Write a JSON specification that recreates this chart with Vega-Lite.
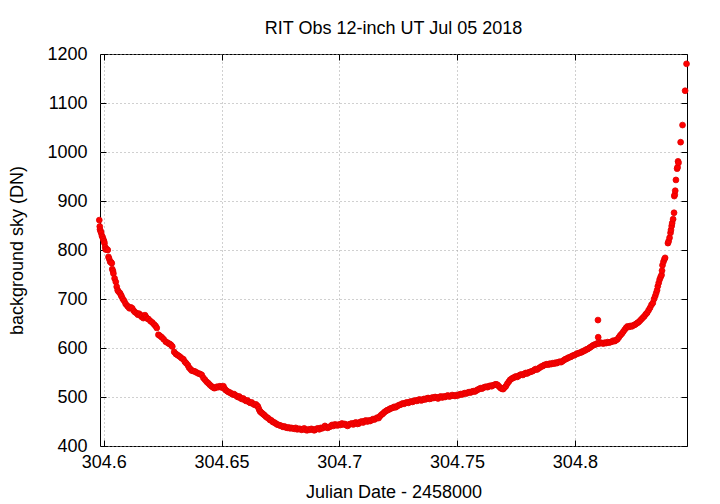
{
  "$schema": "https://vega.github.io/schema/vega-lite/v6.json",
  "width": 587,
  "height": 392,
  "autosize": "none",
  "padding": {"left": 100, "top": 54, "right": 33, "bottom": 58},
  "background": "white",
  "title": {"text": "RIT Obs 12-inch UT Jul 05 2018", "font": "Liberation Sans", "fontSize": 18, "fontWeight": "normal", "color": "black", "anchor": "middle", "offset": 7},
  "config": {
    "view": {"stroke": "black", "strokeWidth": 1},
    "axis": {"labelFont": "Liberation Sans", "labelFontSize": 18, "labelColor": "black", "titleFont": "Liberation Sans", "titleFontSize": 18, "titleFontWeight": "normal", "titleColor": "black", "tickColor": "black", "tickSize": -6, "domain": false, "gridColor": "#a0a0a0", "gridDash": [1, 3], "gridWidth": 1, "gridOpacity": 1}
  },
  "data": {"values": [
{"jd":304.5981,"sky":861},{"jd":304.5983,"sky":848},{"jd":304.5984,"sky":842},{"jd":304.5987,"sky":838},{"jd":304.5989,"sky":835},{"jd":304.5992,"sky":829},{"jd":304.5995,"sky":826},{"jd":304.5998,"sky":822},{"jd":304.6001,"sky":818},{"jd":304.6003,"sky":814},{"jd":304.6006,"sky":806},{"jd":304.6008,"sky":801},{"jd":304.6012,"sky":802},{"jd":304.6017,"sky":800},{"jd":304.602,"sky":786},{"jd":304.6023,"sky":782},{"jd":304.6027,"sky":776},{"jd":304.6031,"sky":775},{"jd":304.6034,"sky":773},{"jd":304.6036,"sky":761},{"jd":304.6039,"sky":757},{"jd":304.6041,"sky":752},{"jd":304.6046,"sky":742},{"jd":304.6051,"sky":735},{"jd":304.6055,"sky":725},{"jd":304.6059,"sky":718},{"jd":304.6063,"sky":715},{"jd":304.6069,"sky":712},{"jd":304.6073,"sky":708},{"jd":304.6076,"sky":705},{"jd":304.6081,"sky":700},{"jd":304.6087,"sky":696},{"jd":304.6093,"sky":690},{"jd":304.61,"sky":686},{"jd":304.6104,"sky":684},{"jd":304.6109,"sky":681},{"jd":304.6115,"sky":683},{"jd":304.6121,"sky":681},{"jd":304.6127,"sky":676},{"jd":304.6133,"sky":673},{"jd":304.614,"sky":671},{"jd":304.6145,"sky":668},{"jd":304.615,"sky":670},{"jd":304.6154,"sky":667},{"jd":304.616,"sky":664},{"jd":304.6164,"sky":666},{"jd":304.6168,"sky":661},{"jd":304.6172,"sky":664},{"jd":304.6175,"sky":667},{"jd":304.618,"sky":663},{"jd":304.6185,"sky":660},{"jd":304.619,"sky":659},{"jd":304.6198,"sky":655},{"jd":304.6206,"sky":652},{"jd":304.6214,"sky":648},{"jd":304.622,"sky":645},{"jd":304.6225,"sky":641},{"jd":304.6232,"sky":627},{"jd":304.6238,"sky":625},{"jd":304.6246,"sky":622},{"jd":304.6254,"sky":618},{"jd":304.6263,"sky":613},{"jd":304.627,"sky":611},{"jd":304.6276,"sky":609},{"jd":304.6281,"sky":608},{"jd":304.6286,"sky":606},{"jd":304.6291,"sky":603},{"jd":304.6299,"sky":592},{"jd":304.6306,"sky":588},{"jd":304.6312,"sky":586},{"jd":304.6318,"sky":584},{"jd":304.6324,"sky":582},{"jd":304.6331,"sky":579},{"jd":304.6338,"sky":577},{"jd":304.6344,"sky":572},{"jd":304.635,"sky":569},{"jd":304.6357,"sky":565},{"jd":304.6362,"sky":560},{"jd":304.6368,"sky":557},{"jd":304.6373,"sky":554},{"jd":304.638,"sky":553},{"jd":304.6387,"sky":552},{"jd":304.6394,"sky":550},{"jd":304.6402,"sky":548},{"jd":304.6409,"sky":547},{"jd":304.6416,"sky":545},{"jd":304.6423,"sky":539},{"jd":304.643,"sky":535},{"jd":304.6437,"sky":531},{"jd":304.6444,"sky":528},{"jd":304.645,"sky":525},{"jd":304.6457,"sky":522},{"jd":304.6463,"sky":520},{"jd":304.6469,"sky":518},{"jd":304.6475,"sky":519},{"jd":304.6481,"sky":521},{"jd":304.6487,"sky":520},{"jd":304.6493,"sky":522},{"jd":304.6498,"sky":521},{"jd":304.6503,"sky":519},{"jd":304.6508,"sky":522},{"jd":304.6513,"sky":517},{"jd":304.6518,"sky":514},{"jd":304.6524,"sky":512},{"jd":304.653,"sky":510},{"jd":304.6536,"sky":509},{"jd":304.6542,"sky":507},{"jd":304.6548,"sky":505},{"jd":304.6553,"sky":506},{"jd":304.6558,"sky":504},{"jd":304.6564,"sky":502},{"jd":304.6569,"sky":500},{"jd":304.6575,"sky":501},{"jd":304.658,"sky":498},{"jd":304.6586,"sky":496},{"jd":304.6592,"sky":497},{"jd":304.6598,"sky":494},{"jd":304.6604,"sky":492},{"jd":304.661,"sky":493},{"jd":304.6616,"sky":490},{"jd":304.6622,"sky":488},{"jd":304.6628,"sky":489},{"jd":304.6634,"sky":486},{"jd":304.664,"sky":484},{"jd":304.6646,"sky":485},{"jd":304.6652,"sky":482},{"jd":304.6655,"sky":480},{"jd":304.6659,"sky":475},{"jd":304.6663,"sky":471},{"jd":304.6667,"sky":469},{"jd":304.6672,"sky":467},{"jd":304.6677,"sky":465},{"jd":304.6682,"sky":463},{"jd":304.6688,"sky":460},{"jd":304.6694,"sky":458},{"jd":304.67,"sky":456},{"jd":304.6706,"sky":453},{"jd":304.6712,"sky":452},{"jd":304.6718,"sky":449},{"jd":304.6724,"sky":448},{"jd":304.673,"sky":446},{"jd":304.6736,"sky":444},{"jd":304.6742,"sky":443},{"jd":304.6748,"sky":442},{"jd":304.6754,"sky":441},{"jd":304.6761,"sky":439},{"jd":304.6767,"sky":440},{"jd":304.6773,"sky":438},{"jd":304.6779,"sky":437},{"jd":304.6785,"sky":438},{"jd":304.6791,"sky":436},{"jd":304.6797,"sky":437},{"jd":304.6803,"sky":436},{"jd":304.6809,"sky":435},{"jd":304.6815,"sky":437},{"jd":304.6821,"sky":434},{"jd":304.6827,"sky":435},{"jd":304.6833,"sky":435},{"jd":304.6839,"sky":433},{"jd":304.6845,"sky":434},{"jd":304.6851,"sky":436},{"jd":304.6857,"sky":433},{"jd":304.6863,"sky":432},{"jd":304.6869,"sky":434},{"jd":304.6875,"sky":433},{"jd":304.6881,"sky":435},{"jd":304.6887,"sky":434},{"jd":304.6893,"sky":432},{"jd":304.6897,"sky":433},{"jd":304.6903,"sky":435},{"jd":304.6909,"sky":436},{"jd":304.6915,"sky":434},{"jd":304.6921,"sky":437},{"jd":304.6927,"sky":436},{"jd":304.6933,"sky":438},{"jd":304.6939,"sky":441},{"jd":304.6945,"sky":438},{"jd":304.6951,"sky":437},{"jd":304.6957,"sky":439},{"jd":304.6963,"sky":440},{"jd":304.6969,"sky":443},{"jd":304.6975,"sky":441},{"jd":304.6981,"sky":444},{"jd":304.6987,"sky":443},{"jd":304.6993,"sky":442},{"jd":304.6999,"sky":444},{"jd":304.7005,"sky":443},{"jd":304.7011,"sky":446},{"jd":304.7017,"sky":444},{"jd":304.7023,"sky":445},{"jd":304.7029,"sky":443},{"jd":304.7035,"sky":441},{"jd":304.7041,"sky":444},{"jd":304.7047,"sky":445},{"jd":304.7053,"sky":446},{"jd":304.7059,"sky":444},{"jd":304.7065,"sky":447},{"jd":304.7071,"sky":448},{"jd":304.7077,"sky":445},{"jd":304.7083,"sky":446},{"jd":304.7089,"sky":449},{"jd":304.7095,"sky":450},{"jd":304.7101,"sky":448},{"jd":304.7107,"sky":451},{"jd":304.7113,"sky":452},{"jd":304.7119,"sky":450},{"jd":304.7125,"sky":452},{"jd":304.7131,"sky":451},{"jd":304.7137,"sky":453},{"jd":304.7143,"sky":455},{"jd":304.7149,"sky":454},{"jd":304.7155,"sky":456},{"jd":304.7161,"sky":458},{"jd":304.7167,"sky":457},{"jd":304.7173,"sky":461},{"jd":304.7179,"sky":464},{"jd":304.7185,"sky":466},{"jd":304.7191,"sky":469},{"jd":304.7197,"sky":471},{"jd":304.7203,"sky":473},{"jd":304.7209,"sky":474},{"jd":304.7215,"sky":476},{"jd":304.7221,"sky":477},{"jd":304.7227,"sky":478},{"jd":304.7233,"sky":480},{"jd":304.7239,"sky":479},{"jd":304.7245,"sky":481},{"jd":304.7251,"sky":483},{"jd":304.7257,"sky":484},{"jd":304.7263,"sky":485},{"jd":304.7269,"sky":487},{"jd":304.7275,"sky":486},{"jd":304.7281,"sky":488},{"jd":304.7287,"sky":489},{"jd":304.7293,"sky":488},{"jd":304.7299,"sky":490},{"jd":304.7305,"sky":491},{"jd":304.7311,"sky":490},{"jd":304.7317,"sky":492},{"jd":304.7323,"sky":493},{"jd":304.7329,"sky":492},{"jd":304.7335,"sky":494},{"jd":304.7341,"sky":495},{"jd":304.7347,"sky":493},{"jd":304.7353,"sky":494},{"jd":304.7359,"sky":496},{"jd":304.7365,"sky":495},{"jd":304.7371,"sky":497},{"jd":304.7377,"sky":498},{"jd":304.7383,"sky":496},{"jd":304.7389,"sky":497},{"jd":304.7395,"sky":499},{"jd":304.7401,"sky":498},{"jd":304.7407,"sky":500},{"jd":304.7413,"sky":499},{"jd":304.7419,"sky":497},{"jd":304.7425,"sky":500},{"jd":304.7431,"sky":501},{"jd":304.7437,"sky":499},{"jd":304.7443,"sky":501},{"jd":304.7449,"sky":500},{"jd":304.7455,"sky":502},{"jd":304.7461,"sky":503},{"jd":304.7467,"sky":501},{"jd":304.7473,"sky":502},{"jd":304.7479,"sky":504},{"jd":304.7485,"sky":503},{"jd":304.7491,"sky":502},{"jd":304.7497,"sky":504},{"jd":304.7503,"sky":503},{"jd":304.7509,"sky":505},{"jd":304.7515,"sky":506},{"jd":304.7521,"sky":505},{"jd":304.7527,"sky":507},{"jd":304.7533,"sky":508},{"jd":304.7539,"sky":507},{"jd":304.7545,"sky":509},{"jd":304.7551,"sky":510},{"jd":304.7557,"sky":509},{"jd":304.7563,"sky":511},{"jd":304.7569,"sky":512},{"jd":304.7575,"sky":511},{"jd":304.7581,"sky":513},{"jd":304.7587,"sky":515},{"jd":304.7593,"sky":516},{"jd":304.7599,"sky":518},{"jd":304.7605,"sky":517},{"jd":304.7611,"sky":519},{"jd":304.7617,"sky":520},{"jd":304.7623,"sky":521},{"jd":304.7629,"sky":520},{"jd":304.7635,"sky":522},{"jd":304.7641,"sky":523},{"jd":304.7647,"sky":522},{"jd":304.7653,"sky":524},{"jd":304.7659,"sky":525},{"jd":304.7665,"sky":526},{"jd":304.7671,"sky":525},{"jd":304.7677,"sky":522},{"jd":304.7683,"sky":519},{"jd":304.7689,"sky":517},{"jd":304.7695,"sky":516},{"jd":304.7701,"sky":519},{"jd":304.7707,"sky":522},{"jd":304.7713,"sky":527},{"jd":304.7719,"sky":531},{"jd":304.7725,"sky":535},{"jd":304.7731,"sky":537},{"jd":304.7737,"sky":539},{"jd":304.7743,"sky":540},{"jd":304.7749,"sky":542},{"jd":304.7755,"sky":541},{"jd":304.7761,"sky":543},{"jd":304.7767,"sky":545},{"jd":304.7773,"sky":546},{"jd":304.7779,"sky":545},{"jd":304.7785,"sky":547},{"jd":304.7791,"sky":549},{"jd":304.7797,"sky":548},{"jd":304.7803,"sky":550},{"jd":304.7809,"sky":551},{"jd":304.7815,"sky":552},{"jd":304.7821,"sky":553},{"jd":304.7827,"sky":555},{"jd":304.7833,"sky":557},{"jd":304.7839,"sky":556},{"jd":304.7845,"sky":558},{"jd":304.7851,"sky":560},{"jd":304.7857,"sky":562},{"jd":304.7863,"sky":563},{"jd":304.7869,"sky":565},{"jd":304.7875,"sky":566},{"jd":304.7881,"sky":567},{"jd":304.7887,"sky":566},{"jd":304.7893,"sky":568},{"jd":304.7899,"sky":567},{"jd":304.7905,"sky":569},{"jd":304.7911,"sky":568},{"jd":304.7917,"sky":570},{"jd":304.7923,"sky":569},{"jd":304.7929,"sky":571},{"jd":304.7935,"sky":572},{"jd":304.7941,"sky":571},{"jd":304.7947,"sky":573},{"jd":304.7953,"sky":575},{"jd":304.7959,"sky":577},{"jd":304.7965,"sky":578},{"jd":304.7971,"sky":580},{"jd":304.7977,"sky":581},{"jd":304.7983,"sky":582},{"jd":304.7989,"sky":584},{"jd":304.7995,"sky":585},{"jd":304.8001,"sky":586},{"jd":304.8007,"sky":588},{"jd":304.8013,"sky":589},{"jd":304.8019,"sky":590},{"jd":304.8025,"sky":591},{"jd":304.8031,"sky":592},{"jd":304.8037,"sky":594},{"jd":304.8043,"sky":595},{"jd":304.8049,"sky":597},{"jd":304.8055,"sky":598},{"jd":304.8061,"sky":600},{"jd":304.8067,"sky":602},{"jd":304.8073,"sky":604},{"jd":304.8079,"sky":606},{"jd":304.8085,"sky":607},{"jd":304.8091,"sky":608},{"jd":304.8097,"sky":610},{"jd":304.8098,"sky":657},{"jd":304.8099,"sky":622},{"jd":304.8103,"sky":609},{"jd":304.8109,"sky":611},{"jd":304.8115,"sky":610},{"jd":304.8121,"sky":609},{"jd":304.8127,"sky":611},{"jd":304.8133,"sky":610},{"jd":304.8139,"sky":612},{"jd":304.8145,"sky":611},{"jd":304.8151,"sky":612},{"jd":304.8157,"sky":613},{"jd":304.8163,"sky":615},{"jd":304.8169,"sky":614},{"jd":304.8175,"sky":616},{"jd":304.8181,"sky":618},{"jd":304.8187,"sky":622},{"jd":304.8193,"sky":626},{"jd":304.8199,"sky":629},{"jd":304.8205,"sky":633},{"jd":304.8211,"sky":637},{"jd":304.8217,"sky":641},{"jd":304.8223,"sky":644},{"jd":304.8229,"sky":643},{"jd":304.8235,"sky":645},{"jd":304.8241,"sky":644},{"jd":304.8247,"sky":646},{"jd":304.8253,"sky":647},{"jd":304.8259,"sky":649},{"jd":304.8265,"sky":651},{"jd":304.8271,"sky":653},{"jd":304.8277,"sky":656},{"jd":304.8283,"sky":659},{"jd":304.8289,"sky":662},{"jd":304.8295,"sky":665},{"jd":304.8301,"sky":669},{"jd":304.8307,"sky":672},{"jd":304.8313,"sky":677},{"jd":304.8319,"sky":682},{"jd":304.8325,"sky":688},{"jd":304.8331,"sky":692},{"jd":304.8336,"sky":700},{"jd":304.8341,"sky":706},{"jd":304.8345,"sky":712},{"jd":304.8349,"sky":718},{"jd":304.8352,"sky":726},{"jd":304.8356,"sky":733},{"jd":304.836,"sky":740},{"jd":304.8364,"sky":745},{"jd":304.8368,"sky":749},{"jd":304.837,"sky":758},{"jd":304.8372,"sky":769},{"jd":304.8376,"sky":776},{"jd":304.838,"sky":781},{"jd":304.8383,"sky":784},{"jd":304.8395,"sky":814},{"jd":304.8398,"sky":818},{"jd":304.8402,"sky":825},{"jd":304.8406,"sky":835},{"jd":304.8408,"sky":841},{"jd":304.8411,"sky":849},{"jd":304.8413,"sky":855},{"jd":304.8417,"sky":863},{"jd":304.8421,"sky":876},{"jd":304.8422,"sky":910},{"jd":304.8424,"sky":913},{"jd":304.8426,"sky":921},{"jd":304.8429,"sky":943},{"jd":304.8434,"sky":966},{"jd":304.8436,"sky":969},{"jd":304.8438,"sky":981},{"jd":304.844,"sky":978},{"jd":304.8449,"sky":1020},{"jd":304.8457,"sky":1055},{"jd":304.8468,"sky":1125},{"jd":304.8474,"sky":1180}
  ]},
  "layer": [
    {
      "mark": {"type": "point", "filled": true, "shape": "circle", "size": 34, "color": "#ff0000", "opacity": 1, "stroke": "#e00000", "strokeWidth": 0.8, "clip": false},
      "encoding": {
        "x": {"field": "jd", "type": "quantitative", "scale": {"domain": [304.5984, 304.8476], "nice": false, "zero": false}, "axis": {"orient": "bottom", "values": [304.6, 304.65, 304.7, 304.75, 304.8], "format": "~g", "grid": true, "labelPadding": 13, "title": "Julian Date - 2458000", "titlePadding": 12}},
        "y": {"field": "sky", "type": "quantitative", "scale": {"domain": [400, 1200], "nice": false, "zero": false}, "axis": {"orient": "left", "values": [400, 500, 600, 700, 800, 900, 1000, 1100, 1200], "format": "d", "grid": true, "labelPadding": 19, "title": "background sky (DN)", "titlePadding": 20}}
      }
    },
    {
      "mark": {"type": "point", "opacity": 0},
      "encoding": {
        "x": {"field": "jd", "type": "quantitative", "axis": {"orient": "top", "values": [304.6, 304.65, 304.7, 304.75, 304.8], "labels": false, "grid": false, "title": null}},
        "y": {"field": "sky", "type": "quantitative", "axis": {"orient": "right", "values": [400, 500, 600, 700, 800, 900, 1000, 1100, 1200], "labels": false, "grid": false, "title": null}}
      }
    }
  ],
  "resolve": {"axis": {"x": "independent", "y": "independent"}}
}
